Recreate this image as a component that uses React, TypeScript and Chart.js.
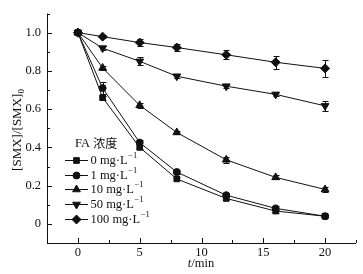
import React, { useEffect, useRef } from "react";
import { Chart, registerables } from "chart.js";

Chart.register(...registerables);

const times = [0, 2, 5, 8, 12, 16, 20];
const seriesLabels = ["0 mg·L", "1 mg·L", "10 mg·L", "50 mg·L", "100 mg·L"];
const s0 = [1.0, 0.66, 0.4, 0.235, 0.133, 0.067, 0.04];
const s1 = [1.0, 0.71, 0.425, 0.271, 0.15, 0.081, 0.04];
const s10 = [1.0, 0.815, 0.62, 0.478, 0.335, 0.243, 0.18];
const s50 = [1.0, 0.919, 0.85, 0.772, 0.72, 0.677, 0.617];
const s100 = [1.0, 0.979, 0.948, 0.922, 0.884, 0.845, 0.813];
const e0 = [0, 0.01, 0.01, 0.008, 0.008, 0.008, 0.005];
const e1 = [0, 0.03, 0.015, 0.01, 0.01, 0.01, 0.005];
const e10 = [0, 0.012, 0.012, 0.01, 0.015, 0.01, 0.012];
const e50 = [0, 0.01, 0.02, 0.01, 0.012, 0.01, 0.028];
const e100 = [0, 0.008, 0.02, 0.018, 0.024, 0.035, 0.043];
const xTicks = [0, 5, 10, 15, 20];
const yTicks = [0, 0.2, 0.4, 0.6, 0.8, 1.0];

const allValues = [s0, s1, s10, s50, s100];
const allErrors = [e0, e1, e10, e50, e100];
const styles: any[] = ["rect", "circle", "triangle", "triangle", "rectRot"];
const rotations = [0, 0, 0, 180, 0];
const radii = [4, 3.5, 4.5, 4.5, 4.5];

const SERIF = "'Liberation Serif', 'DejaVu Serif', serif";
const CJK = "'Noto Sans CJK SC', sans-serif";
const INK = "#111";

function drawMarker(ctx: any, style: string, r: number, rot: number, x: number, y: number) {
  ctx.save();
  ctx.fillStyle = INK;
  ctx.strokeStyle = INK;
  ctx.lineWidth = 1;
  ctx.beginPath();
  if (style === "rect") {
    const s = Math.SQRT1_2 * r;
    ctx.rect(x - s, y - s, 2 * s, 2 * s);
  } else if (style === "circle") {
    ctx.arc(x, y, r, 0, Math.PI * 2);
  } else if (style === "rectRot") {
    ctx.moveTo(x, y - r);
    ctx.lineTo(x + r, y);
    ctx.lineTo(x, y + r);
    ctx.lineTo(x - r, y);
    ctx.closePath();
  } else {
    const dir = rot === 180 ? -1 : 1;
    const half = r * Math.sin(Math.PI / 3);
    ctx.moveTo(x, y - dir * r);
    ctx.lineTo(x + half, y + dir * r * 0.5);
    ctx.lineTo(x - half, y + dir * r * 0.5);
    ctx.closePath();
  }
  ctx.fill();
  ctx.stroke();
  ctx.restore();
}

export default function App() {
  const ref = useRef<HTMLCanvasElement | null>(null);
  useEffect(() => {
    const canvas = ref.current!;
    const overlay = {
      id: "overlay",
      afterDatasetsDraw(chart: any) {
        const ctx = chart.ctx;
        const xs = chart.scales.x;
        const ys = chart.scales.y;
        const ca = chart.chartArea;
        ctx.save();
        ctx.strokeStyle = INK;
        ctx.lineWidth = 1;
        // error bars
        allValues.forEach((vals, i) => {
          vals.forEach((v, j) => {
            const e = allErrors[i][j];
            if (!e) return;
            const px = Math.round(xs.getPixelForValue(times[j])) + 0.5;
            const yt = Math.round(ys.getPixelForValue(v + e)) + 0.5;
            const yb = Math.round(ys.getPixelForValue(v - e)) + 0.5;
            ctx.beginPath();
            ctx.moveTo(px, yt);
            ctx.lineTo(px, yb);
            ctx.moveTo(px - 3, yt);
            ctx.lineTo(px + 3, yt);
            ctx.moveTo(px - 3, yb);
            ctx.lineTo(px + 3, yb);
            ctx.stroke();
          });
        });
        // axes lines
        ctx.beginPath();
        ctx.moveTo(Math.round(ca.left) + 0.5, ca.top);
        ctx.lineTo(Math.round(ca.left) + 0.5, Math.round(ca.bottom) + 0.5);
        ctx.lineTo(ca.right, Math.round(ca.bottom) + 0.5);
        ctx.stroke();
        // x ticks (inward)
        for (let k = -1; k <= 9; k++) {
          const v = k * 2.5;
          const px = Math.round(xs.getPixelForValue(v)) + 0.5;
          const len = k % 2 === 0 ? 5 : 3;
          ctx.beginPath();
          ctx.moveTo(px, Math.round(ca.bottom));
          ctx.lineTo(px, Math.round(ca.bottom) - len);
          ctx.stroke();
        }
        // y ticks (inward)
        for (let k = -1; k <= 11; k++) {
          const py = Math.round(ys.getPixelForValue(k / 10)) + 0.5;
          const len = k % 2 === 0 ? 5 : 3;
          ctx.beginPath();
          ctx.moveTo(Math.round(ca.left), py);
          ctx.lineTo(Math.round(ca.left) + len, py);
          ctx.stroke();
        }
        // legend
        ctx.fillStyle = INK;
        ctx.textBaseline = "middle";
        ctx.textAlign = "left";
        ctx.font = "12.5px " + SERIF;
        ctx.fillText("FA", 75, 143.5);
        const faW = ctx.measureText("FA ").width;
        ctx.font = "12px " + CJK;
        ctx.fillText("浓度", 75 + faW, 143.5);
        const rowY = [159.5, 174.5, 189, 204, 219];
        seriesLabels.forEach((lab, i) => {
          const y = Math.round(rowY[i]) + 0.5;
          ctx.strokeStyle = INK;
          ctx.lineWidth = 1;
          ctx.beginPath();
          ctx.moveTo(65, y);
          ctx.lineTo(88, y);
          ctx.stroke();
          drawMarker(ctx, styles[i], radii[i], rotations[i], 76.5, y);
          ctx.fillStyle = INK;
          ctx.font = "12.5px " + SERIF;
          ctx.textBaseline = "middle";
          ctx.fillText(lab, 90.5, y);
          const w = ctx.measureText(lab).width;
          ctx.font = "8.5px " + SERIF;
          ctx.fillText("−1", 90.5 + w + 0.5, y - 4.5);
        });
        // y title
        ctx.save();
        ctx.translate(18, 130);
        ctx.rotate(-Math.PI / 2);
        ctx.font = "13px " + SERIF;
        const main = "[SMX]/[SMX]";
        const mw = ctx.measureText(main).width;
        ctx.font = "9px " + SERIF;
        const sw = ctx.measureText("0").width;
        const total = mw + sw;
        ctx.textAlign = "left";
        ctx.textBaseline = "middle";
        ctx.font = "13px " + SERIF;
        ctx.fillText(main, -total / 2, 0);
        ctx.font = "9px " + SERIF;
        ctx.fillText("0", -total / 2 + mw, 4);
        ctx.restore();
        // x title
        ctx.font = "italic 12.5px " + SERIF;
        const tw = ctx.measureText("t").width;
        ctx.font = "12.5px " + SERIF;
        const rw = ctx.measureText("/min").width;
        const x0 = 201 - (tw + rw) / 2;
        ctx.textAlign = "left";
        ctx.textBaseline = "middle";
        ctx.font = "italic 12.5px " + SERIF;
        ctx.fillText("t", x0, 264);
        ctx.font = "12.5px " + SERIF;
        ctx.fillText("/min", x0 + tw, 264);
        ctx.restore();
      },
    };

    const chart = new Chart(canvas, {
      type: "line",
      data: {
        datasets: allValues.map((vals, i) => ({
          label: seriesLabels[i],
          data: vals.map((v, j) => ({ x: times[j], y: v })),
          borderColor: INK,
          backgroundColor: INK,
          borderWidth: 1,
          pointStyle: styles[i],
          pointRotation: rotations[i],
          pointRadius: radii[i],
          pointBorderWidth: 1,
          pointBackgroundColor: INK,
          pointBorderColor: INK,
          tension: 0,
        })),
      },
      options: {
        animation: false,
        responsive: false,
        maintainAspectRatio: false,
        layout: { padding: { left: 0, right: 7, top: 11, bottom: 0 } },
        plugins: { legend: { display: false }, tooltip: { enabled: false } },
        scales: {
          x: {
            type: "linear",
            min: -2.5,
            max: 22.5,
            grid: { display: false, drawTicks: false },
            border: { display: false },
            afterBuildTicks: (s: any) => {
              s.ticks = xTicks.map((v) => ({ value: v }));
            },
            afterFit: (s: any) => {
              s.height = 31;
            },
            ticks: {
              padding: 2,
              color: INK,
              font: { family: SERIF, size: 12.5 },
              maxRotation: 0,
              callback: (v: any) => String(v),
            },
          },
          y: {
            type: "linear",
            min: -0.1,
            max: 1.1,
            grid: { display: false, drawTicks: false },
            border: { display: false },
            afterBuildTicks: (s: any) => {
              s.ticks = yTicks.map((v) => ({ value: v }));
            },
            afterFit: (s: any) => {
              s.width = 47;
            },
            ticks: {
              padding: 6,
              color: INK,
              font: { family: SERIF, size: 12.5 },
              callback: (v: any) => (v === 0 ? "0" : Number(v).toFixed(1)),
            },
          },
        },
      },
      plugins: [overlay],
    } as any);
    return () => chart.destroy();
  }, []);

  return (
    <div style={{ position: "fixed", left: 0, top: 0, width: 363, height: 274, background: "#fff" }}>
      <canvas ref={ref} width={363} height={274} style={{ width: 363, height: 274, display: "block" }} />
    </div>
  );
}
